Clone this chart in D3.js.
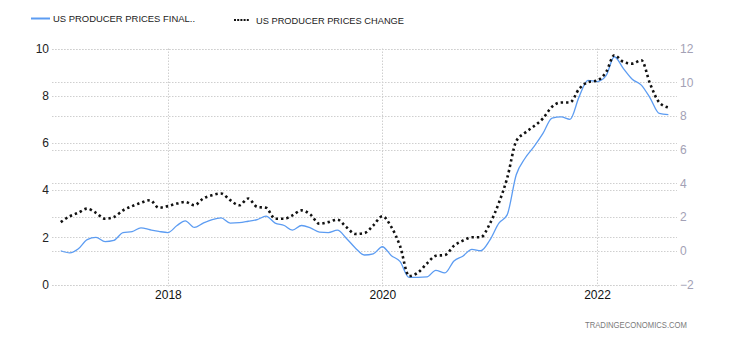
<!DOCTYPE html>
<html>
<head>
<meta charset="utf-8">
<script src="https://cdn.jsdelivr.net/npm/d3@7/dist/d3.min.js"></script>
<style>
  html, body { margin: 0; padding: 0; background: #fff; }
  svg { display: block; font-family: "Liberation Sans", Arial, sans-serif; }
</style>
</head>
<body>
<svg id="chart" width="730" height="340"></svg>
<script>
// ---- Data (monthly, Jan 2017 – Sep 2022) ----
const months = [
  "2017-01","2017-02","2017-03","2017-04","2017-05","2017-06","2017-07","2017-08","2017-09","2017-10","2017-11","2017-12",
  "2018-01","2018-02","2018-03","2018-04","2018-05","2018-06","2018-07","2018-08","2018-09","2018-10","2018-11","2018-12",
  "2019-01","2019-02","2019-03","2019-04","2019-05","2019-06","2019-07","2019-08","2019-09","2019-10","2019-11","2019-12",
  "2020-01","2020-02","2020-03","2020-04","2020-05","2020-06","2020-07","2020-08","2020-09","2020-10","2020-11","2020-12",
  "2021-01","2021-02","2021-03","2021-04","2021-05","2021-06","2021-07","2021-08","2021-09","2021-10","2021-11","2021-12",
  "2022-01","2022-02","2022-03","2022-04","2022-05","2022-06","2022-07","2022-08","2022-09"
];
// US producer prices final demand less food & energy, YoY % (left axis)
const finalValues = [
  1.43, 1.34, 1.50, 1.90, 2.00, 1.82, 1.87, 2.20, 2.24, 2.40, 2.32, 2.25,
  2.20, 2.50, 2.70, 2.42, 2.60, 2.75, 2.82, 2.60, 2.62, 2.68, 2.75, 2.90,
  2.60, 2.50, 2.30, 2.50, 2.40, 2.22, 2.20, 2.30, 1.95, 1.55, 1.25, 1.30,
  1.60, 1.22, 0.98, 0.30, 0.30, 0.32, 0.60, 0.49, 1.00, 1.20, 1.49, 1.43,
  1.88, 2.60, 2.95, 4.65, 5.35, 5.85, 6.40, 7.05, 7.10, 7.00, 7.95, 8.65,
  8.60, 8.85, 9.65, 9.15, 8.70, 8.45, 7.90, 7.25, 7.20
];
// US producer prices change, YoY % (right axis)
const changeValues = [
  1.70, 2.05, 2.25, 2.50, 2.25, 1.90, 2.00, 2.40, 2.65, 2.85, 3.00, 2.55,
  2.65, 2.80, 2.90, 2.70, 3.10, 3.30, 3.40, 3.00, 2.70, 3.10, 2.60, 2.55,
  1.90, 1.90, 2.10, 2.40, 2.15, 1.60, 1.70, 1.85, 1.40, 1.00, 1.05, 1.50,
  2.05, 1.40, 0.30, -1.50, -1.30, -0.75, -0.30, -0.25, 0.30, 0.60, 0.80, 0.80,
  1.60, 2.85, 4.30, 6.50, 7.00, 7.40, 7.85, 8.55, 8.80, 8.80, 9.60, 10.00,
  10.10, 10.60, 11.60, 11.20, 11.10, 11.30, 9.90, 8.80, 8.50
];
const leftTicks = [0, 2, 4, 6, 8, 10];
const rightTicks = [-2, 0, 2, 4, 6, 8, 10, 12];
const yearTicks = ["2018", "2020", "2022"];
const seriesNames = ["US PRODUCER PRICES FINAL..", "US PRODUCER PRICES CHANGE"];

// ---- Layout ----
const plot = { left: 52, right: 677, top: 48.5, bottom: 284.5 };
const svg = d3.select("#chart");
const parseMonth = d3.timeParse("%Y-%m");
const parseYear = d3.timeParse("%Y");

const x = d3.scaleTime()
  .domain([parseYear("2017"), parseYear("2022")])
  .range([60.75, 597]);
const yL = d3.scaleLinear().domain([0, 10]).range([plot.bottom, plot.top]);
const yR = d3.scaleLinear().domain([-2, 12]).range([plot.bottom, plot.top]);

const grid = svg.append("g")
  .attr("stroke", "#cfcfcf").attr("stroke-width", 1)
  .attr("stroke-dasharray", "1.5,1.5").attr("fill", "none");

const gl = svg.append("g").attr("transform", `translate(${plot.left},0)`)
  .call(d3.axisLeft(yL).tickValues(leftTicks).tickSize(0).tickPadding(3)
        .tickFormat(d3.format("d")));
gl.select(".domain").remove();
gl.selectAll("text").attr("font-size", 12).attr("fill", "#222")
  .attr("font-family", "Liberation Sans, Arial, sans-serif");

const gr = svg.append("g").attr("transform", `translate(${plot.right},0)`)
  .call(d3.axisRight(yR).tickValues(rightTicks).tickSize(0).tickPadding(3)
        .tickFormat(d3.format("d")));
gr.select(".domain").remove();
gr.selectAll("text").attr("font-size", 12).attr("fill", "#a3a1b5")
  .attr("font-family", "Liberation Sans, Arial, sans-serif");

grid.selectAll("line.hl").data(leftTicks).join("line")
  .attr("x1", plot.left).attr("x2", plot.right)
  .attr("y1", d => Math.round(yL(d)) + 0.5).attr("y2", d => Math.round(yL(d)) + 0.5);
grid.selectAll("line.hr").data(rightTicks).enter().append("line")
  .attr("x1", plot.left).attr("x2", plot.right)
  .attr("y1", d => Math.round(yR(d)) + 0.5).attr("y2", d => Math.round(yR(d)) + 0.5);

const gx = svg.append("g").attr("transform", `translate(0,${plot.bottom})`)
  .call(d3.axisBottom(x).tickValues(yearTicks.map(parseYear)).tickSize(0).tickPadding(6)
        .tickFormat(d3.timeFormat("%Y")));
gx.select(".domain").remove();
gx.selectAll("text").attr("font-size", 12).attr("fill", "#111")
  .attr("font-family", "Liberation Sans, Arial, sans-serif");
svg.append("g").attr("stroke", "#cfcfcf").attr("stroke-dasharray", "1.5,1.5")
  .selectAll("line").data(yearTicks.map(parseYear)).join("line")
  .attr("x1", d => Math.round(x(d)) + 0.5).attr("x2", d => Math.round(x(d)) + 0.5)
  .attr("y1", plot.top).attr("y2", plot.bottom + 2);

// ---- Lines ----
const dates = months.map(parseMonth);
const lineL = d3.line().x((d, i) => x(dates[i])).y(d => yL(d)).curve(d3.curveMonotoneX);
const lineR = d3.line().x((d, i) => x(dates[i])).y(d => yR(d)).curve(d3.curveMonotoneX);

svg.append("path").datum(finalValues)
  .attr("d", lineL).attr("fill", "none")
  .attr("stroke", "#5c9cf2").attr("stroke-width", 1.3);

svg.append("path").datum(changeValues)
  .attr("d", lineR).attr("fill", "none")
  .attr("stroke", "#111").attr("stroke-width", 2.6)
  .attr("stroke-dasharray", "2.4,3");

// ---- Legend ----
const leg = svg.append("g").attr("font-family", "Liberation Sans, Arial, sans-serif")
  .attr("font-size", 9.6).attr("fill", "#222");
leg.append("line").attr("x1", 31).attr("x2", 50).attr("y1", 18.5).attr("y2", 18.5)
  .attr("stroke", "#5c9cf2").attr("stroke-width", 2);
leg.append("text").attr("x", 53).attr("y", 22).text(seriesNames[0])
  .attr("textLength", 142).attr("lengthAdjust", "spacingAndGlyphs");
leg.append("line").attr("x1", 234).attr("x2", 249).attr("y1", 20).attr("y2", 20)
  .attr("stroke", "#111").attr("stroke-width", 2).attr("stroke-dasharray", "2,1.2");
leg.append("text").attr("x", 256).attr("y", 23.5).text(seriesNames[1])
  .attr("textLength", 148).attr("lengthAdjust", "spacingAndGlyphs");

// ---- Watermark ----
svg.append("text").attr("x", 585).attr("y", 327.5)
  .attr("font-family", "Liberation Sans, Arial, sans-serif")
  .attr("font-size", 8.5).attr("fill", "#7a7a7a")
  .attr("textLength", 102).attr("lengthAdjust", "spacingAndGlyphs")
  .text("TRADINGECONOMICS.COM");
</script>
</body>
</html>
